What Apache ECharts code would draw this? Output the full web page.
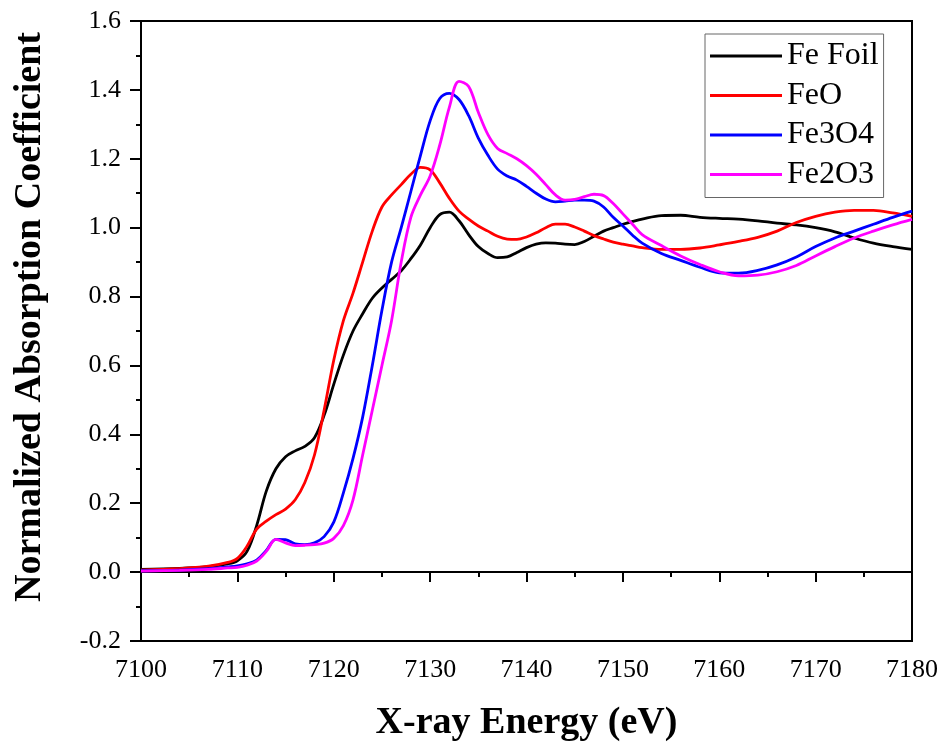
<!DOCTYPE html>
<html><head><meta charset="utf-8">
<script src="https://cdn.jsdelivr.net/npm/echarts@6/dist/echarts.min.js"></script>
<style>html,body{margin:0;padding:0;background:#fff}#c{width:945px;height:748px}</style>
</head><body><div id="c"></div>
<script>
const energy = [7100,7104,7107,7109,7110,7111,7112,7113,7114,7115,7116,7117,7118,7119,7120,7121,7122,7123,7124,7125,7126,7127,7128,7129,7130,7131,7132,7133,7134,7135,7136,7137,7138,7139,7140,7141,7142,7143,7144,7145,7146,7147,7148,7149,7150,7151,7152,7154,7156,7158,7160,7162,7164,7166,7168,7170,7172,7174,7176,7178,7180];
const feFoil = [0.008,0.011,0.016,0.024,0.033,0.06,0.135,0.235,0.30,0.335,0.352,0.365,0.39,0.455,0.545,0.63,0.70,0.75,0.795,0.825,0.85,0.875,0.91,0.95,1.0,1.038,1.045,1.02,0.98,0.945,0.925,0.913,0.915,0.928,0.942,0.952,0.956,0.955,0.952,0.951,0.96,0.975,0.99,1.0,1.01,1.018,1.025,1.035,1.036,1.03,1.027,1.025,1.02,1.013,1.008,1.0,0.988,0.97,0.955,0.945,0.937];
const feO = [0.006,0.01,0.017,0.028,0.04,0.075,0.125,0.148,0.167,0.183,0.21,0.26,0.34,0.47,0.615,0.73,0.81,0.9,0.99,1.06,1.095,1.125,1.155,1.175,1.168,1.13,1.085,1.048,1.025,1.005,0.99,0.975,0.967,0.966,0.973,0.985,1.0,1.01,1.01,1.002,0.99,0.977,0.967,0.958,0.952,0.947,0.942,0.937,0.937,0.941,0.95,0.96,0.972,0.99,1.015,1.033,1.045,1.05,1.05,1.043,1.033];
const fe3o4 = [0.004,0.006,0.01,0.015,0.018,0.024,0.035,0.063,0.095,0.094,0.082,0.08,0.085,0.103,0.145,0.23,0.33,0.45,0.6,0.76,0.9,1.0,1.105,1.21,1.31,1.375,1.39,1.372,1.325,1.26,1.21,1.17,1.15,1.138,1.12,1.1,1.083,1.075,1.077,1.08,1.08,1.077,1.06,1.03,1.005,0.978,0.955,0.925,0.905,0.885,0.869,0.868,0.876,0.892,0.915,0.945,0.97,0.99,1.01,1.03,1.048];
const fe2o3 = [0.003,0.005,0.008,0.012,0.014,0.02,0.032,0.06,0.095,0.085,0.077,0.078,0.08,0.084,0.098,0.135,0.21,0.34,0.47,0.6,0.73,0.9,1.03,1.095,1.15,1.24,1.35,1.425,1.41,1.335,1.27,1.23,1.215,1.2,1.18,1.155,1.125,1.095,1.08,1.082,1.09,1.097,1.093,1.07,1.04,1.01,0.98,0.948,0.918,0.893,0.872,0.86,0.862,0.872,0.89,0.918,0.945,0.97,0.99,1.008,1.024];
const seriesNames = ['Fe Foil','FeO','Fe3O4','Fe2O3'];
const seriesColors = ['#000000','#ff0000','#0000ff','#ff00ff'];
const seriesValues = [feFoil, feO, fe3o4, fe2o3];
const xTitle = 'X-ray Energy (eV)';
const yTitle = 'Normalized Absorption Coefficient';

const FONT = '"Liberation Serif","Times New Roman",serif';
const chart = echarts.init(document.getElementById('c'), null, {renderer:'canvas'});
chart.setOption({
  animation:false,
  backgroundColor:'#fff',
  grid:{left:141,right:33,top:21,bottom:107,show:true,borderColor:'#000',borderWidth:2,backgroundColor:'transparent'},
  legend:{
    orient:'vertical', left:705, top:34,
    padding:[6,5,7,5], itemGap:7.5, itemWidth:72, itemHeight:3, icon:'rect',
    borderColor:'#666', borderWidth:1, backgroundColor:'#fff',
    textStyle:{fontFamily:FONT,fontSize:32,color:'#000',lineHeight:32},
    data:seriesNames
  },
  xAxis:{
    type:'value', min:7100, max:7180, interval:10,
    axisLine:{show:true,lineStyle:{color:'#000',width:2}},
    axisTick:{show:true,inside:false,length:10,lineStyle:{color:'#000',width:2}},
    minorTick:{show:true,splitNumber:2,length:5,lineStyle:{color:'#000',width:2}},
    splitLine:{show:false},
    axisLabel:{fontFamily:FONT,fontSize:26,color:'#000',margin:16,formatter:v=>String(v)},
    name:xTitle, nameLocation:'middle', nameGap:63,
    nameTextStyle:{fontFamily:FONT,fontSize:38,fontWeight:'bold',color:'#000'}
  },
  yAxis:{
    type:'value', min:-0.2, max:1.6, interval:0.2,
    axisLine:{show:true,lineStyle:{color:'#000',width:2}},
    axisTick:{show:true,inside:false,length:11,lineStyle:{color:'#000',width:2}},
    minorTick:{show:true,splitNumber:2,length:5,lineStyle:{color:'#000',width:2}},
    splitLine:{show:false},
    axisLabel:{fontFamily:FONT,fontSize:26,color:'#000',margin:20,formatter:v=>v.toFixed(1)},
    name:yTitle, nameLocation:'middle', nameGap:92,
    nameTextStyle:{fontFamily:FONT,fontSize:38,fontWeight:'bold',color:'#000',padding:[0,0,0,28]}
  },
  series: seriesNames.map((n,i)=>({
    name:n, type:'line', symbol:'none', smooth:0.35,
    lineStyle:{color:seriesColors[i],width:2.8},
    itemStyle:{color:seriesColors[i]},
    data: energy.map((e,k)=>[e, seriesValues[i][k]])
  }))
});
</script></body></html>
